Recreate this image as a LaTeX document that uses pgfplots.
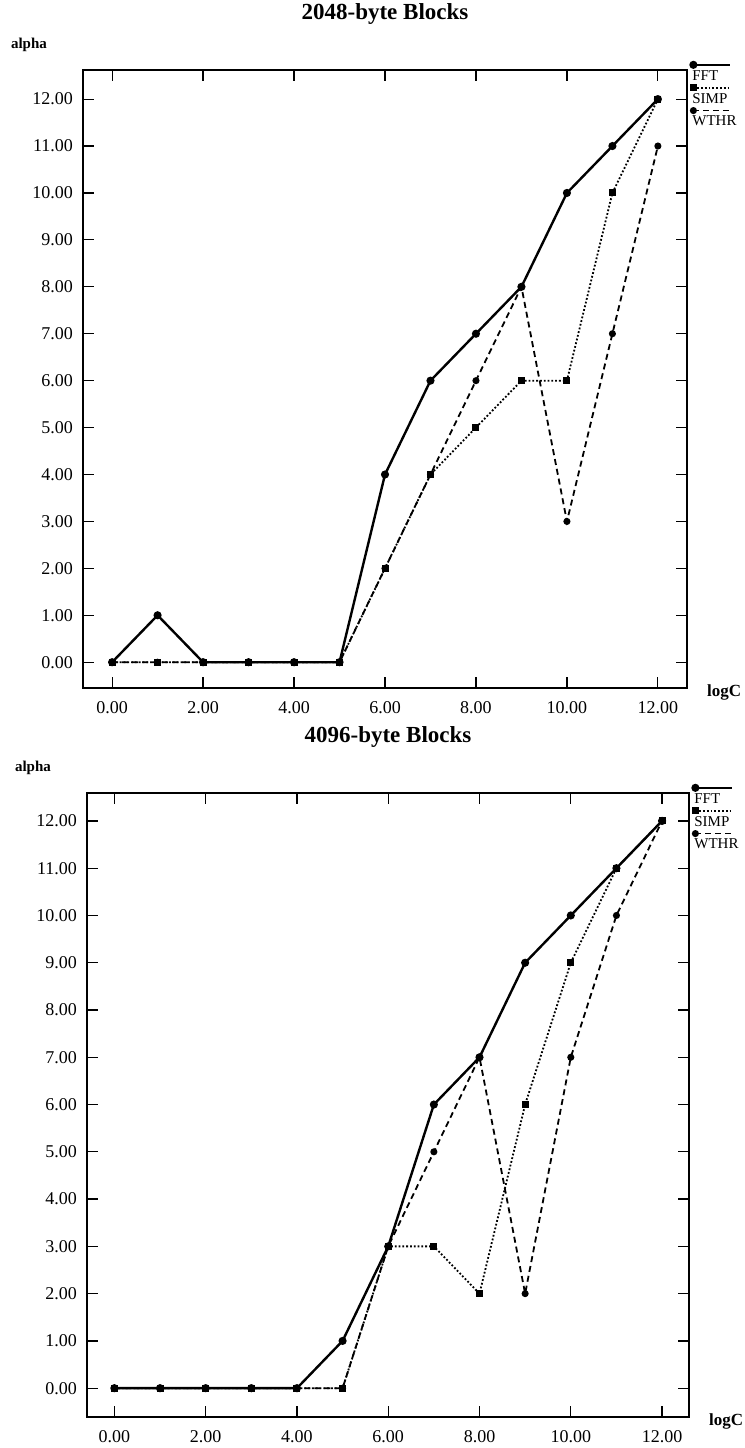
\documentclass[border=0pt]{standalone}
\usepackage{fontspec}
\setmainfont{Liberation Serif}
\usepackage{pgfplots}
\pgfplotsset{compat=1.18}

\pgfplotsset{
  blockplot/.style={
    scale only axis,
    axis line style={line width=0.6pt},
    tick align=inside,
    major tick length=5.5pt,
    xtick={0,2,...,12},
    ytick={0,1,...,12},
    minor tick num=0,
    tick style={black, line width=0.6pt},
    /pgf/number format/.cd, fixed, fixed zerofill, precision=2, assume math mode=true,
    /pgfplots/.cd,
    tick label style={font=\fontsize{9}{9}\selectfont},
    xticklabel style={yshift=-3pt},
    yticklabel style={xshift=-1.5pt},
    every axis x label/.style={at={(rel axis cs:1,0)}, anchor=west, xshift=6.5pt, yshift=-2pt,
      font=\bfseries\fontsize{8.5}{8.5}\selectfont},
    every axis y label/.style={at={(rel axis cs:0,1)}, anchor=center, xshift=-27pt, yshift=12.5pt,
      font=\bfseries\fontsize{7.5}{7.5}\selectfont},
    xlabel={logC}, ylabel={alpha},
    every axis title/.style={at={(rel axis cs:0.5,1)}, anchor=center, yshift=28pt,
      font=\bfseries\fontsize{11.5}{11.5}\selectfont},
    legend cell align=left,
    legend style={at={(rel axis cs:1,1)}, anchor=north west, draw=none, fill=none,
      xshift=-0.5pt, yshift=2pt, font=\fontsize{7.5}{7.5}\selectfont, row sep=1pt, inner sep=0pt},
    % sample line drawn as an overline above the entry text, mark at its left end
    legend image code/.code={
      \path[draw=none, fill=none] (0pt,0pt) -- (1pt,0pt);
      \draw[overlay, mark repeat=2, #1] plot coordinates {(3.5pt,6pt) (22pt,6pt)};
    },
  },
  fft/.style={black, line width=1.2pt, mark=*, mark size=1.4pt, mark options={solid}},
  simp/.style={black, line width=0.9pt, densely dotted, mark=square*, mark size=1.3pt, mark options={solid}},
  wthr/.style={black, line width=0.9pt, dash pattern=on 3pt off 2pt, mark=*, mark size=1.3pt, mark options={solid}},
}

\begin{document}
\begin{tikzpicture}[x=1pt,y=1pt]
\path[use as bounding box] (0,0) rectangle (372.5,-724);

% 2048-byte blocks
\begin{axis}[blockplot, at={(41.5pt,-344pt)}, anchor=south west,
  width=302pt, height=309pt,
  xmin=-0.64, xmax=12.64, ymin=-0.55, ymax=12.62,
  title={2048-byte Blocks}]
\addplot[fft] coordinates {(0,0)(1,1)(2,0)(3,0)(4,0)(5,0)(6,4)(7,6)(8,7)(9,8)(10,10)(11,11)(12,12)};
\addlegendentry{FFT}
\addplot[simp] coordinates {(0,0)(1,0)(2,0)(3,0)(4,0)(5,0)(6,2)(7,4)(8,5)(9,6)(10,6)(11,10)(12,12)};
\addlegendentry{SIMP}
\addplot[wthr] coordinates {(0,0)(1,0)(2,0)(3,0)(4,0)(5,0)(6,2)(7,4)(8,6)(9,8)(10,3)(11,7)(12,11)};
\addlegendentry{WTHR}
\end{axis}

% 4096-byte blocks
\begin{axis}[blockplot, at={(43.5pt,-708.5pt)}, anchor=south west,
  width=301pt, height=312pt,
  xmin=-0.6, xmax=12.59, ymin=-0.61, ymax=12.59,
  title={4096-byte Blocks}]
\addplot[fft] coordinates {(0,0)(1,0)(2,0)(3,0)(4,0)(5,1)(6,3)(7,6)(8,7)(9,9)(10,10)(11,11)(12,12)};
\addlegendentry{FFT}
\addplot[simp] coordinates {(0,0)(1,0)(2,0)(3,0)(4,0)(5,0)(6,3)(7,3)(8,2)(9,6)(10,9)(11,11)(12,12)};
\addlegendentry{SIMP}
\addplot[wthr] coordinates {(0,0)(1,0)(2,0)(3,0)(4,0)(5,0)(6,3)(7,5)(8,7)(9,2)(10,7)(11,10)(12,12)};
\addlegendentry{WTHR}
\end{axis}
\end{tikzpicture}
\end{document}
